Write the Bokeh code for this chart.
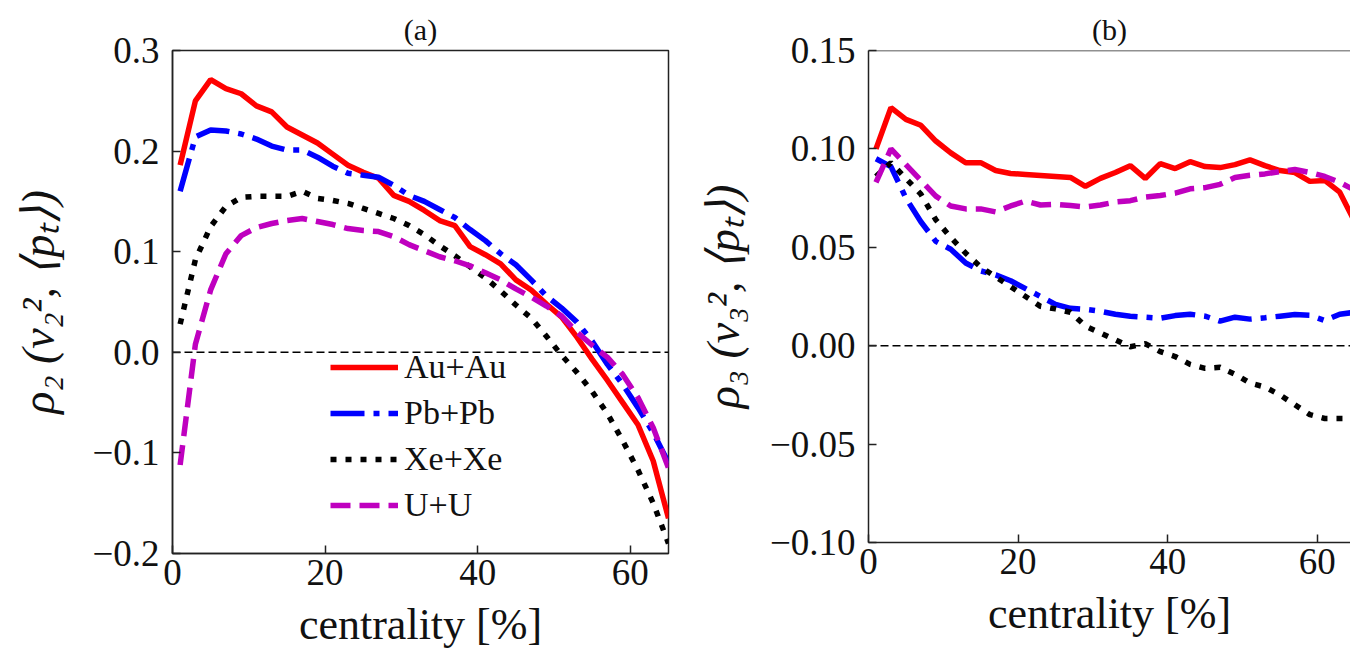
from bokeh.plotting import figure
from bokeh.layouts import row
from bokeh.models import Span, FixedTicker, CustomJSTickFormatter
from bokeh.embed import file_html
from bokeh.resources import INLINE

# ---------------- data ----------------
cent = [1, 3, 5, 7, 9, 11, 13, 15, 17, 19, 21, 23, 25, 27, 29, 31, 33,
        35, 37, 39, 41, 43, 45, 47, 49, 51, 53, 55, 57, 59, 61, 63, 65]

rho2_auau = [0.186, 0.250, 0.271, 0.262, 0.257, 0.245, 0.239, 0.224, 0.216, 0.208, 0.197,
             0.186, 0.179, 0.173, 0.156, 0.150, 0.141, 0.131, 0.126, 0.105, 0.097, 0.088,
             0.072, 0.062, 0.048, 0.035, 0.015, -0.007, -0.028, -0.050, -0.072, -0.108, -0.165]
rho2_pbpb = [0.160, 0.214, 0.221, 0.220, 0.217, 0.212, 0.205, 0.201, 0.201, 0.194, 0.185,
             0.178, 0.176, 0.174, 0.166, 0.156, 0.150, 0.142, 0.134, 0.122, 0.111, 0.098,
             0.087, 0.072, 0.056, 0.044, 0.030, 0.011, -0.012, -0.032, -0.055, -0.080, -0.110]
rho2_xexe = [0.028, 0.092, 0.125, 0.145, 0.154, 0.155, 0.155, 0.155, 0.160, 0.153, 0.151,
             0.148, 0.143, 0.138, 0.133, 0.126, 0.117, 0.106, 0.096, 0.085, 0.074, 0.061,
             0.047, 0.034, 0.016, -0.003, -0.020, -0.039, -0.061, -0.088, -0.117, -0.150, -0.190]
rho2_uu = [-0.112, 0.008, 0.062, 0.098, 0.116, 0.124, 0.128, 0.131, 0.133, 0.130, 0.127,
           0.123, 0.121, 0.120, 0.115, 0.107, 0.101, 0.095, 0.091, 0.086, 0.079, 0.072,
           0.063, 0.055, 0.046, 0.036, 0.020, 0.007, -0.005, -0.022, -0.045, -0.075, -0.115]

rho3_auau = [0.100, 0.121, 0.115, 0.112, 0.104, 0.098, 0.093, 0.093, 0.089, 0.0875, 0.087,
             0.0865, 0.086, 0.0855, 0.081, 0.085, 0.088, 0.0915, 0.085, 0.0925, 0.090, 0.0935,
             0.091, 0.0905, 0.092, 0.0944, 0.0915, 0.089, 0.088, 0.0835, 0.084, 0.078, 0.063]
rho3_pbpb = [0.095, 0.091, 0.075, 0.063, 0.053, 0.049, 0.042, 0.038, 0.036, 0.033, 0.029,
             0.025, 0.021, 0.019, 0.0185, 0.0175, 0.016, 0.015, 0.0145, 0.014, 0.0153, 0.016,
             0.015, 0.0125, 0.0145, 0.0135, 0.0142, 0.015, 0.0158, 0.0155, 0.0128, 0.016, 0.017]
rho3_xexe = [0.086, 0.093, 0.085, 0.077, 0.064, 0.055, 0.047, 0.040, 0.035, 0.030, 0.025,
             0.020, 0.0187, 0.017, 0.010, 0.0065, 0.003, -0.0005, 0.001, -0.003, -0.0055, -0.0095,
             -0.0115, -0.011, -0.0145, -0.019, -0.021, -0.025, -0.030, -0.035, -0.037, -0.037, -0.037]
rho3_uu = [0.083, 0.100, 0.092, 0.084, 0.076, 0.071, 0.0695, 0.0695, 0.068, 0.071, 0.0735,
           0.0715, 0.0718, 0.0712, 0.0705, 0.0715, 0.073, 0.0737, 0.0755, 0.0763, 0.0775, 0.0797,
           0.0803, 0.082, 0.0855, 0.0866, 0.0873, 0.0885, 0.0895, 0.088, 0.086, 0.083, 0.079]

systems = ["Au+Au", "Pb+Pb", "Xe+Xe", "U+U"]
x_ticks = [0, 20, 40, 60]
y_ticks_a = [-0.2, -0.1, 0.0, 0.1, 0.2, 0.3]
y_ticks_b = [-0.10, -0.05, 0.0, 0.05, 0.10, 0.15]
x_label = "centrality [%]"

# ---------------- styles ----------------
SERIF = "Liberation Serif"
styles = {
    "Au+Au": dict(line_color="#ff0000", line_dash="solid"),
    "Pb+Pb": dict(line_color="#0000ff", line_dash="34 9 6 9"),
    "Xe+Xe": dict(line_color="#000000", line_dash="6 9"),
    "U+U": dict(line_color="#bf00bf", line_dash="20 9"),
}
LW = 5.5


def make_fig(title, ylabel, yrange, xrange, yticks, decimals, width, left, right, bottom,
             ystandoff):
    p = figure(width=width, height=656, x_range=xrange, y_range=yrange,
               output_backend="svg", toolbar_location=None,
               min_border_left=left, min_border_right=right,
               min_border_top=50, min_border_bottom=bottom)
    p.frame_align = False
    p.title.text = title
    p.title.align = "center"
    p.title.text_font = SERIF
    p.title.text_font_size = "30px"
    p.title.text_font_style = "normal"
    p.title.text_color = "#111111"
    p.xgrid.visible = False
    p.ygrid.visible = False
    p.xaxis.ticker = FixedTicker(ticks=x_ticks)
    p.yaxis.ticker = FixedTicker(ticks=yticks)
    p.yaxis.formatter = CustomJSTickFormatter(
        code="return (tick < -1e-9 ? '\\u2212' : '') + Math.abs(tick).toFixed(%d);" % decimals)
    for ax in (p.xaxis[0], p.yaxis[0]):
        ax.axis_line_width = 1.5
        ax.axis_line_color = "#222222"
        ax.major_tick_in = 8
        ax.major_tick_out = 0
        ax.major_tick_line_width = 1.5
        ax.major_tick_line_color = "#222222"
        ax.minor_tick_line_color = None
        ax.major_label_text_font = SERIF
        ax.major_label_text_font_size = "37px"
        ax.major_label_text_color = "#111111"
        ax.axis_label_text_font = SERIF
        ax.axis_label_text_color = "#111111"
    p.xaxis.major_label_standoff = 6
    p.xaxis.axis_label = x_label
    p.xaxis.axis_label_text_font_size = "44px"
    p.xaxis.axis_label_text_font_style = "normal"
    p.xaxis.axis_label_standoff = 12
    p.yaxis.axis_label = ylabel
    p.yaxis.axis_label_text_font_size = "46px"
    p.yaxis.axis_label_text_font_style = "italic"
    p.yaxis.major_label_standoff = 13
    p.yaxis.axis_label_standoff = ystandoff
    p.outline_line_color = "#222222"
    p.outline_line_width = 1.5
    p.add_layout(Span(location=0, dimension="width", line_color="#000000",
                      line_width=1.5, line_dash="8 4", level="underlay"))
    return p


# ---------------- panel (a) ----------------
p1 = make_fig("(a)", "ρ₂ (v₂², ⟨pₜ⟩)", (-0.2, 0.3), (0, 65), y_ticks_a, 1,
              width=690, left=172, right=22, bottom=103, ystandoff=25)
for name, vals in zip(systems, [rho2_auau, rho2_pbpb, rho2_xexe, rho2_uu]):
    p1.line(cent, vals, line_width=LW, legend_label=name, **styles[name])

lg = p1.legend[0]
lg.location = (158, 28)
lg.padding = 0
lg.margin = 0
lg.spacing = 6
lg.glyph_width = 68
lg.glyph_height = 40
lg.label_height = 40
lg.label_standoff = 6
lg.label_text_font = SERIF
lg.label_text_font_size = "34px"
lg.label_text_color = "#111111"
lg.border_line_color = None
lg.background_fill_alpha = 0

# ---------------- panel (b) ----------------
p2 = make_fig("(b)", "ρ₃ (v₃², ⟨pₜ⟩)", (-0.10, 0.15), (0, 64.44), y_ticks_b, 2,
              width=660, left=178, right=0, bottom=114, ystandoff=18)
p2.outline_line_color = None
p2.add_layout(Span(location=0.15, dimension="width", line_color="#222222", line_width=1.5))
for name, vals in zip(systems, [rho3_auau, rho3_pbpb, rho3_xexe, rho3_uu]):
    p2.line(cent, vals, line_width=LW, **styles[name])

layout = row(p1, p2)
open("out.html", "w").write(file_html(layout, INLINE))
